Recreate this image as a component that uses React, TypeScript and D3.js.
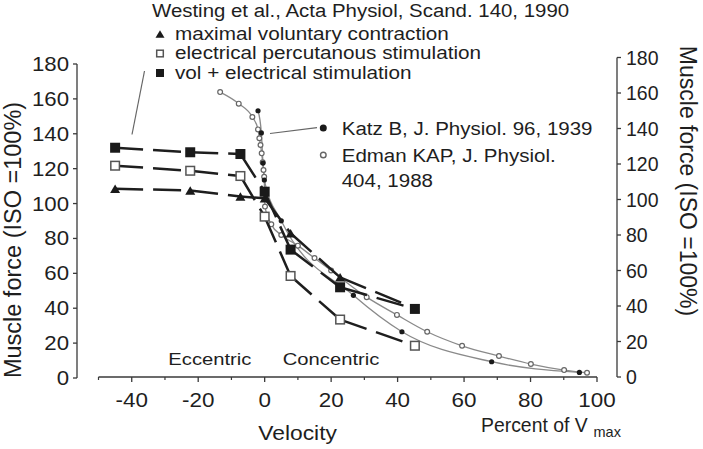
import React from "react";
import * as d3 from "d3";

// ---- data ----
const westingV = [-45, -22.4, -7.3, 0, 7.8, 22.7, 45.2];
const mvcForce = [108.5, 107.5, 104, 103, 83, 57.7, 40];
const epsForce = [121.7, 118.8, 115.8, 92.5, 58.5, 33.5, 18.5];
const volEsForce = [132, 129.4, 128.4, 106.8, 73.6, 52, 39.6];

const katzV = [-2.0, -1.0, -0.5, -0.1, 5, 26.7, 41.3, 68.3, 94.7];
const katzF = [150, 137.5, 120.5, 111, 88, 46, 25.5, 8.6, 2.6];

const edmanV = [-13.4, -7.8, -3.7, -2.0, -1.6, -1.25, -0.9, -0.6, -0.35, -0.15, 0.1, 2, 5, 10, 15, 20, 30.7, 39.8, 48.9, 59.4, 70.5, 80.1, 90.1, 97];
const edmanF = [160.5, 154, 146.5, 139.5, 134.5, 130.7, 126, 121, 116.6, 112.8, 96, 86, 80, 74, 67, 60, 45, 35, 25.5, 17.6, 11.8, 7.3, 3.9, 2.4];

const xMajorTicks = [-40, -20, 0, 20, 40, 60, 80, 100];
const xMinorTicks = [-50, -30, -10, 10, 30, 50, 70, 90];
const yTicks = [0, 20, 40, 60, 80, 100, 120, 140, 160, 180];

const titleText = "Westing et al., Acta Physiol, Scand. 140, 1990";
const legendLabels = ["maximal voluntary contraction", "electrical percutanous stimulation", "vol + electrical stimulation"];
const katzLabel = "Katz B, J. Physiol. 96, 1939";
const edmanLabel = ["Edman KAP, J. Physiol.", "404, 1988"];
const yTitle = "Muscle force (ISO =100%)";

const FONT = "'Liberation Sans', Arial, Helvetica, sans-serif";

function T({ x, y, fs, sx = 1, anchor = "start", rot = 0, fill = "#1e1e1e", children }: any) {
  return (
    <text
      transform={`translate(${x},${y}) rotate(${rot}) scale(${sx},1)`}
      fontSize={fs}
      textAnchor={anchor}
      fill={fill}
      fontFamily={FONT}
    >
      {children}
    </text>
  );
}

function Tri({ x, y, s = 10 }: any) {
  const h = s * 0.85;
  return <path d={`M${x - s / 2},${y + h / 2}L${x + s / 2},${y + h / 2}L${x},${y - h / 2}Z`} fill="#1a1a1a" />;
}
function FSq({ x, y, s = 9 }: any) {
  return <rect x={x - s / 2} y={y - s / 2} width={s} height={s} fill="#1a1a1a" />;
}
function OSq({ x, y, s = 9 }: any) {
  return <rect x={x - s / 2 + 0.7} y={y - s / 2 + 0.7} width={s - 1.4} height={s - 1.4} fill="#fff" stroke="#555" strokeWidth={1.5} />;
}

export default function App() {
  const W = 703, H = 449;
  const x = d3.scaleLinear().domain([-50, 100]).range([98.5, 597]);
  const yL = d3.scaleLinear().domain([0, 180]).range([378, 64]);
  const yR = d3.scaleLinear().domain([0, 180]).range([377, 57.5]);

  const westSeries = [
    { vals: mvcForce, kind: "tri" },
    { vals: epsForce, kind: "osq" },
    { vals: volEsForce, kind: "fsq" },
  ];

  const lineGen = d3
    .line<[number, number]>()
    .x((d) => x(d[0]))
    .y((d) => yR(d[1]))
    .curve(d3.curveMonotoneX);

  const katzPts: [number, number][] = katzV.map((v, i) => [v, katzF[i]]);
  const edmanPts: [number, number][] = edmanV.map((v, i) => [v, edmanF[i]]);

  const axisColor = "#3a3a3a";

  return (
    <svg width={W} height={H} style={{ position: "absolute", left: 0, top: 0, background: "#fff" }}>
      <rect width={W} height={H} fill="#fff" />

      {/* title & legend */}
      <T x={152} y={16.5} fs={18.4} sx={1.11}>{titleText}</T>
      {legendLabels.map((l, i) => (
        <T key={l} x={175} y={40 + i * 19.3} fs={18.5} sx={1.12}>{l}</T>
      ))}
      <Tri x={160} y={34} s={9} />
      <OSq x={160} y={53.5} s={8} />
      <FSq x={160} y={73} s={8} />
      <line x1={144.5} y1={71} x2={132} y2={134.5} stroke="#666" strokeWidth={1.2} />

      {/* left axis */}
      <line x1={77} x2={77} y1={yL(180)} y2={yL(0)} stroke={axisColor} strokeWidth={1.3} />
      {yTicks.map((t) => (
        <g key={"l" + t}>
          <line x1={73} x2={77} y1={yL(t)} y2={yL(t)} stroke={axisColor} strokeWidth={1.3} />
          <T x={69} y={yL(t) + 7} fs={19.5} sx={1.14} anchor="end">{t}</T>
        </g>
      ))}
      <T x={21} y={240} fs={23.5} rot={-90} anchor="middle">{yTitle}</T>

      {/* right axis */}
      <line x1={617} x2={617} y1={yR(180)} y2={yR(0)} stroke={axisColor} strokeWidth={1.3} />
      {yTicks.map((t) => (
        <g key={"r" + t}>
          <line x1={617} x2={621} y1={yR(t)} y2={yR(t)} stroke={axisColor} strokeWidth={1.3} />
          <T x={626} y={yR(t) + 7} fs={19.5} sx={1.0}>{t}</T>
        </g>
      ))}
      <T x={680} y={181} fs={23} rot={90} anchor="middle">{yTitle}</T>

      {/* bottom axis */}
      <line x1={x(-50)} x2={x(100)} y1={377} y2={377} stroke={axisColor} strokeWidth={1.3} />
      {xMajorTicks.map((t) => (
        <g key={"x" + t}>
          <line x1={x(t)} x2={x(t)} y1={377} y2={382} stroke={axisColor} strokeWidth={1.3} />
          <T x={x(t)} y={407} fs={19.5} sx={1.15} anchor="middle">{t}</T>
        </g>
      ))}
      {xMinorTicks.map((t) => (
        <line key={"m" + t} x1={x(t)} x2={x(t)} y1={377} y2={380} stroke={axisColor} strokeWidth={1.2} />
      ))}
      <T x={258.3} y={440} fs={19.5} sx={1.17}>Velocity</T>
      <T x={481} y={432} fs={20} sx={0.97}>Percent of V</T>
      <T x={593.5} y={437} fs={14.5}>max</T>
      <T x={168.3} y={365} fs={17} sx={1.19}>Eccentric</T>
      <T x={282.7} y={365} fs={17} sx={1.19}>Concentric</T>

      {/* Katz / Edman curves */}
      <path d={lineGen(edmanPts) || ""} fill="none" stroke="#8a8a8a" strokeWidth={1.3} />
      <path d={lineGen(katzPts) || ""} fill="none" stroke="#8a8a8a" strokeWidth={1.3} />
      {edmanPts.map((p, i) => (
        <circle key={"e" + i} cx={x(p[0])} cy={yR(p[1])} r={2.4} fill="#fff" stroke="#666" strokeWidth={1.2} />
      ))}
      {katzPts.map((p, i) => (
        <circle key={"k" + i} cx={x(p[0])} cy={yR(p[1])} r={2.6} fill="#1a1a1a" />
      ))}

      {/* Westing dashed segments */}
      {westSeries.map((s, si) =>
        s.vals.slice(0, -1).map((v, i) => (
          <line
            key={"w" + si + "-" + i}
            x1={x(westingV[i])}
            y1={yL(v)}
            x2={x(westingV[i + 1])}
            y2={yL(s.vals[i + 1])}
            stroke="#1e1e1e"
            strokeWidth={2.5}
            strokeDasharray="28 10"
          />
        ))
      )}
      {westSeries.map((s, si) =>
        s.vals.map((v, i) => {
          const cx = x(westingV[i]);
          const cy = yL(v);
          if (s.kind === "tri") return <Tri key={"t" + si + i} x={cx} y={cy} s={10} />;
          if (s.kind === "osq") return <OSq key={"t" + si + i} x={cx} y={cy} s={10} />;
          return <FSq key={"t" + si + i} x={cx} y={cy} s={10} />;
        })
      )}

      {/* Katz / Edman legend */}
      <line x1={270} y1={133.5} x2={317} y2={127.7} stroke="#666" strokeWidth={1.2} />
      <circle cx={323.3} cy={128} r={3.5} fill="#1a1a1a" />
      <circle cx={323.3} cy={155} r={2.8} fill="#fff" stroke="#666" strokeWidth={1.4} />
      <T x={341.7} y={135} fs={19} sx={1.08}>{katzLabel}</T>
      <T x={341.7} y={161.5} fs={19} sx={1.08}>{edmanLabel[0]}</T>
      <T x={341.7} y={186.5} fs={19} sx={1.08}>{edmanLabel[1]}</T>
    </svg>
  );
}
